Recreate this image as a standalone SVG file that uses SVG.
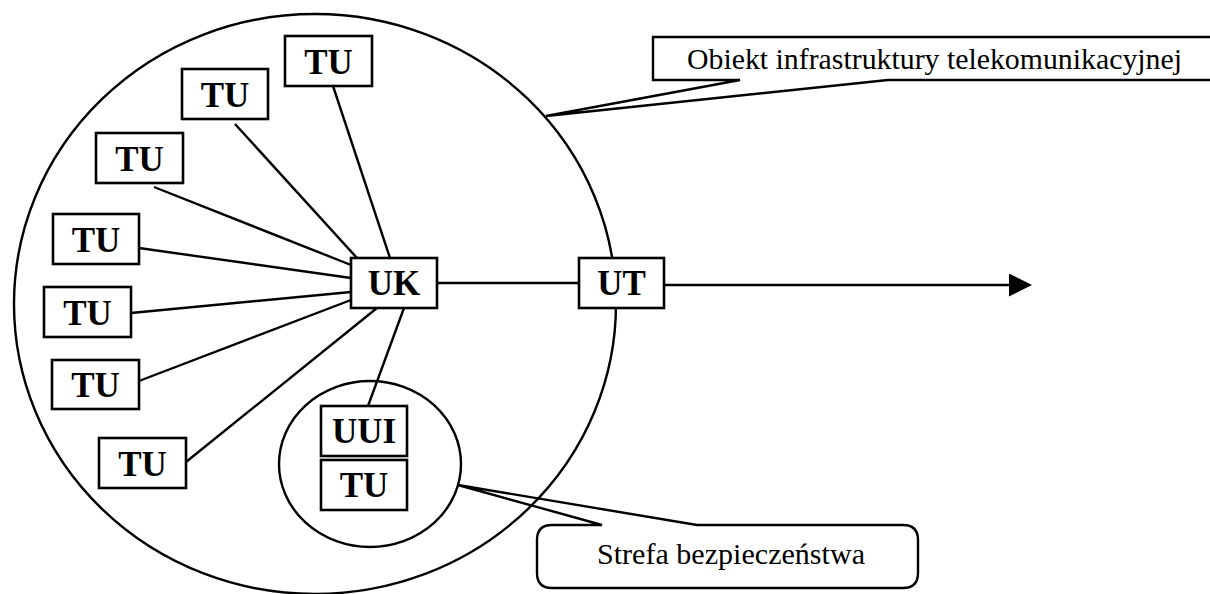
<svg xmlns="http://www.w3.org/2000/svg" width="1210" height="594" viewBox="0 0 1210 594">
<defs>
<style>
.ln{stroke:#000;stroke-width:2.4;fill:none}
.bx{stroke:#000;stroke-width:2.6;fill:#fff}
.lb{font-family:"Liberation Serif","Times New Roman",serif;font-weight:bold;font-size:35px;text-anchor:middle;fill:#000}
.cl{font-family:"Liberation Serif","Times New Roman",serif;font-size:30px;fill:#000}
</style>
<marker id="arr" markerWidth="23" markerHeight="23" refX="0" refY="11.5" orient="auto" markerUnits="userSpaceOnUse" viewBox="0 0 23 23">
<path d="M0,0 L23,11.5 L0,23 Z" fill="#000"/>
</marker>
</defs>
<rect width="1210" height="594" fill="#fff"/>
<g id="zones">
<ellipse id="obiekt" cx="315" cy="304" rx="301" ry="290" class="ln"/>
<ellipse id="strefa" cx="370" cy="464" rx="91" ry="83" class="ln"/>
</g>
<g id="connectors" class="ln">
<line x1="333" y1="86" x2="390" y2="258"/>
<line x1="235" y1="124" x2="357" y2="258"/>
<line x1="154" y1="187" x2="351" y2="265"/>
<line x1="139" y1="248" x2="351" y2="278"/>
<line x1="131" y1="313" x2="351" y2="292"/>
<line x1="139" y1="381" x2="351" y2="300"/>
<line x1="186" y1="462" x2="377" y2="308"/>
<line x1="368" y1="406" x2="404" y2="308"/>
<line x1="437" y1="283" x2="579" y2="283"/>
<line x1="664" y1="285" x2="1009" y2="285" marker-end="url(#arr)"/>
</g>
<g id="tu1"><rect x="285" y="36" width="87" height="50" class="bx"/><text x="328.5" y="74" class="lb">TU</text></g>
<g id="tu2"><rect x="182" y="69" width="86" height="50" class="bx"/><text x="225" y="107" class="lb">TU</text></g>
<g id="tu3"><rect x="96" y="133" width="87" height="50" class="bx"/><text x="139.5" y="171" class="lb">TU</text></g>
<g id="tu4"><rect x="53" y="214" width="86" height="50" class="bx"/><text x="96" y="252" class="lb">TU</text></g>
<g id="tu5"><rect x="44" y="287" width="87" height="50" class="bx"/><text x="87.5" y="325" class="lb">TU</text></g>
<g id="tu6"><rect x="52" y="360" width="87" height="49" class="bx"/><text x="95.5" y="397" class="lb">TU</text></g>
<g id="tu7"><rect x="99" y="438" width="87" height="50" class="bx"/><text x="142.5" y="476" class="lb">TU</text></g>
<g id="uk"><rect x="351" y="258" width="86" height="50" class="bx"/><text x="394" y="295" class="lb">UK</text></g>
<g id="ut"><rect x="579" y="258" width="85" height="50" class="bx"/><text x="621.5" y="295" class="lb">UT</text></g>
<g id="uui"><rect x="321" y="406" width="86" height="50" class="bx"/><text x="364" y="443" class="lb">UUI</text></g>
<g id="tu8"><rect x="321" y="460" width="86" height="50" class="bx"/><text x="364" y="497" class="lb">TU</text></g>
<g id="callout-obiekt">
<path d="M888,80 L1215,80 L1215,37 L653,37 L653,80 L740,80 L546,116 Z" class="ln"/>
<text x="687" y="69" class="cl" textLength="495" lengthAdjust="spacingAndGlyphs">Obiekt infrastruktury telekomunikacyjnej</text>
</g>
<g id="callout-strefa">
<path d="M602,525 L552,525 Q537,525 537,540 L537,573 Q537,588 552,588 L903,588 Q918,588 918,573 L918,540 Q918,525 903,525 L697,525 L458,485 Z" class="ln"/>
<text x="597" y="564" class="cl" textLength="268" lengthAdjust="spacingAndGlyphs">Strefa bezpieczeństwa</text>
</g>
</svg>
